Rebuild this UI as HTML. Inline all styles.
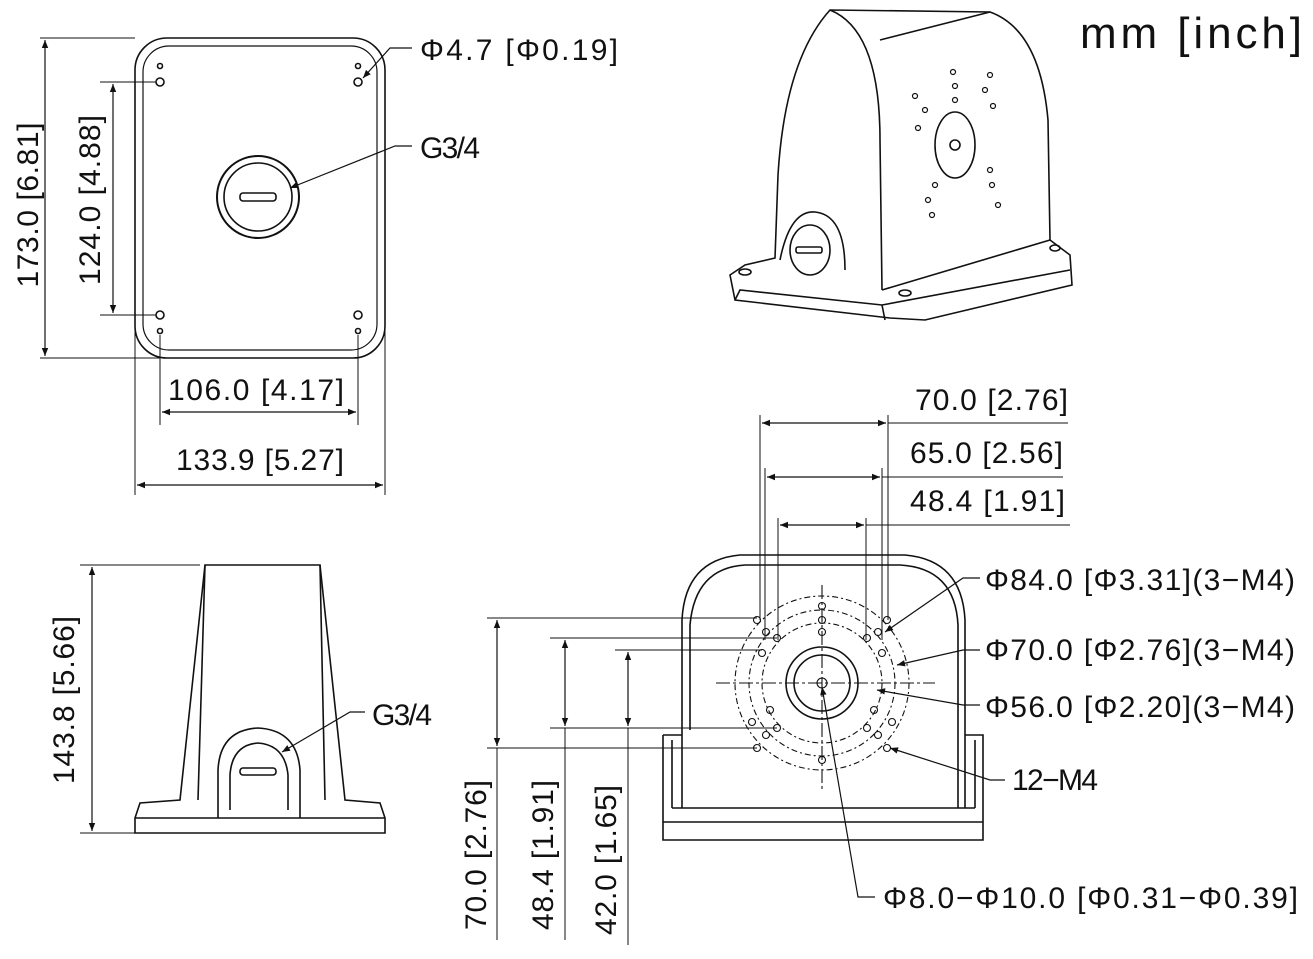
<!DOCTYPE html>
<html><head><meta charset="utf-8"><style>
html,body{margin:0;padding:0;background:#fff}
svg{display:block}
text{font-family:"Liberation Sans",sans-serif;fill:#111}
</style></head><body>
<svg width="1313" height="959" viewBox="0 0 1313 959" xmlns="http://www.w3.org/2000/svg">
<defs>
<marker id="a" viewBox="0 0 10 10" refX="10" refY="5" markerWidth="14" markerHeight="8" orient="auto-start-reverse" markerUnits="userSpaceOnUse"><path d="M0,1 L10,5 L0,9 z" fill="#111"/></marker>
</defs>
<g stroke="#111" fill="none" stroke-width="1.6">
<!-- TOP VIEW -->
<rect x="135" y="38" width="250" height="320" rx="32"/>
<rect x="143" y="46" width="234" height="304" rx="26" stroke-width="1.2"/>
<circle cx="160" cy="82" r="4"/><circle cx="160" cy="66" r="2.5"/>
<circle cx="358" cy="82" r="4"/><circle cx="358" cy="66" r="2.5"/>
<circle cx="160" cy="315" r="4"/><circle cx="160" cy="331" r="2.5"/>
<circle cx="358" cy="315" r="4"/><circle cx="358" cy="331" r="2.5"/>
<circle cx="258" cy="197" r="41" stroke-width="2"/>
<circle cx="258" cy="197" r="34"/>
<rect x="240" y="193" width="36" height="8" rx="3"/>
<!-- top view dims -->
<line x1="40" y1="38" x2="135" y2="38" stroke-width="1"/>
<line x1="40" y1="358" x2="160" y2="358" stroke-width="1"/>
<line x1="100" y1="82" x2="156" y2="82" stroke-width="1"/>
<line x1="100" y1="315" x2="156" y2="315" stroke-width="1"/>
<line x1="45" y1="40" x2="45" y2="356" marker-start="url(#a)" marker-end="url(#a)" stroke-width="1.2"/>
<line x1="113" y1="84" x2="113" y2="313" marker-start="url(#a)" marker-end="url(#a)" stroke-width="1.2"/>
<line x1="160" y1="335" x2="160" y2="425" stroke-width="1"/>
<line x1="358" y1="335" x2="358" y2="425" stroke-width="1"/>
<line x1="135" y1="330" x2="135" y2="495" stroke-width="1"/>
<line x1="385" y1="330" x2="385" y2="495" stroke-width="1"/>
<line x1="162" y1="412" x2="356" y2="412" marker-start="url(#a)" marker-end="url(#a)" stroke-width="1.2"/>
<line x1="137" y1="485" x2="383" y2="485" marker-start="url(#a)" marker-end="url(#a)" stroke-width="1.2"/>
<polyline points="412,48 390,48 363,78" stroke-width="1.2" marker-end="url(#a)"/>
<polyline points="412,146 395,146 290,188" stroke-width="1.2" marker-end="url(#a)"/>

<!-- ISO VIEW -->
<path d="M730,275 L745,265 L775,258 L778,175 Q785,60 830,10 L990,12 Q1040,30 1048,120 L1050,240 L1070,255 L1072,285 L925,320 L890,318 L735,300 Z"/>
<path d="M830,10 Q880,30 880,140 L882,290"/>
<path d="M990,12 L880,40"/>
<path d="M882,290 L1050,240"/>
<path d="M735,300 L740,290 L882,305 L1070,270"/>
<path d="M882,305 L885,320"/>
<ellipse cx="955" cy="145" rx="20" ry="33"/>
<circle cx="955" cy="145" r="5"/>
<path d="M780,260 Q790,210 815,212 Q845,215 845,270"/>
<ellipse cx="810" cy="250" rx="20" ry="25"/>
<rect x="796" y="247" width="26" height="6" rx="2"/>
<ellipse cx="745" cy="272" rx="6" ry="3"/>
<ellipse cx="905" cy="293" rx="6" ry="3"/>
<ellipse cx="1055" cy="248" rx="5" ry="3"/>
<g stroke-width="1.2">
<circle cx="915" cy="96" r="2.5"/><circle cx="925" cy="110" r="2.5"/><circle cx="918" cy="128" r="2.5"/>
<circle cx="953" cy="72" r="2.5"/><circle cx="955" cy="86" r="2.5"/><circle cx="955" cy="100" r="2.5"/>
<circle cx="990" cy="75" r="2.5"/><circle cx="985" cy="90" r="2.5"/><circle cx="993" cy="106" r="2.5"/>
<circle cx="935" cy="185" r="2.5"/><circle cx="928" cy="200" r="2.5"/><circle cx="932" cy="215" r="2.5"/>
<circle cx="990" cy="170" r="2.5"/><circle cx="992" cy="185" r="2.5"/><circle cx="998" cy="205" r="2.5"/>
</g>

<!-- SIDE VIEW -->
<path d="M205,565 L320,565 L345,800 L380,803 L385,818 L385,833 L135,833 L135,818 L140,803 L180,800 Z"/>
<line x1="205" y1="565" x2="198" y2="800"/>
<line x1="320" y1="565" x2="325" y2="800"/>
<line x1="135" y1="818" x2="385" y2="818"/>
<path d="M218,818 L218,770 Q220,730 258,728 Q297,730 300,770 L300,818"/>
<path d="M230,810 L230,775 Q232,745 258,743 Q285,745 288,775 L288,810"/>
<rect x="240" y="768" width="36" height="7" rx="3"/>
<line x1="80" y1="565" x2="200" y2="565" stroke-width="1"/>
<line x1="80" y1="833" x2="135" y2="833" stroke-width="1"/>
<line x1="92" y1="567" x2="92" y2="831" marker-start="url(#a)" marker-end="url(#a)" stroke-width="1.2"/>
<polyline points="365,712 350,712 282,752" stroke-width="1.2" marker-end="url(#a)"/>

<!-- FRONT VIEW -->
<path d="M682,730 L682,620 Q685,560 740,555 L905,555 Q962,560 965,620 L965,808"/>
<path d="M690,730 L690,625 Q695,568 745,565 L900,565 Q955,568 958,625 L958,808"/>
<path d="M682,730 L682,808"/>
<path d="M663,735 L682,735 M663,735 L663,840 L983,840 L983,735 L965,735"/>
<path d="M672,808 L975,808 M663,822 L983,822"/>
<path d="M672,740 L672,808 M975,740 L975,808"/>
<g stroke-width="1.1">
<circle cx="822" cy="683" r="87" stroke-dasharray="6,3,2,3"/>
<circle cx="822" cy="683" r="73" stroke-dasharray="6,3,2,3"/>
<circle cx="822" cy="683" r="60" stroke-dasharray="6,3,2,3"/>
<circle cx="822" cy="683" r="36" stroke-width="1.6"/>
<circle cx="822" cy="683" r="28" stroke-width="1.6"/>
<circle cx="822" cy="683" r="5"/>
<line x1="716" y1="683" x2="935" y2="683" stroke-dasharray="14,3,3,3"/>
<line x1="822" y1="585" x2="822" y2="790" stroke-dasharray="14,3,3,3"/>
<circle cx="822" cy="606" r="3.5"/><circle cx="822" cy="620" r="3.5"/><circle cx="822" cy="632" r="3.5"/>
<circle cx="757" cy="620" r="3.5"/><circle cx="777" cy="638" r="3.5"/><circle cx="766" cy="632" r="3.5"/>
<circle cx="887" cy="620" r="3.5"/><circle cx="867" cy="638" r="3.5"/><circle cx="878" cy="632" r="3.5"/>
<circle cx="762" cy="653" r="3.5"/><circle cx="882" cy="653" r="3.5"/>
<circle cx="757" cy="748" r="3.5"/><circle cx="777" cy="728" r="3.5"/><circle cx="766" cy="735" r="3.5"/>
<circle cx="887" cy="748" r="3.5"/><circle cx="867" cy="728" r="3.5"/><circle cx="878" cy="735" r="3.5"/>
<circle cx="752" cy="722" r="3.5"/><circle cx="892" cy="722" r="3.5"/>
<circle cx="770" cy="710" r="3.5"/><circle cx="874" cy="710" r="3.5"/>
<circle cx="822" cy="760" r="3.5"/>
</g>
<!-- front dims -->
<g stroke-width="1">
<line x1="760" y1="415" x2="760" y2="620"/><line x1="888" y1="415" x2="888" y2="620"/>
<line x1="765" y1="468" x2="765" y2="640"/><line x1="882" y1="468" x2="882" y2="640"/>
<line x1="778" y1="518" x2="778" y2="640"/><line x1="866" y1="518" x2="866" y2="640"/>
<line x1="888" y1="423" x2="1068" y2="423"/><line x1="882" y1="477" x2="1063" y2="477"/><line x1="866" y1="525" x2="1070" y2="525"/>
<line x1="487" y1="618" x2="757" y2="618"/><line x1="487" y1="748" x2="757" y2="748"/>
<line x1="550" y1="638" x2="777" y2="638"/><line x1="550" y1="728" x2="777" y2="728"/>
<line x1="615" y1="650" x2="762" y2="650"/>
<line x1="497" y1="748" x2="497" y2="940"/><line x1="565" y1="728" x2="565" y2="940"/><line x1="628" y1="728" x2="628" y2="945"/>
</g>
<line x1="762" y1="423" x2="886" y2="423" marker-start="url(#a)" marker-end="url(#a)" stroke-width="1.2"/>
<line x1="767" y1="477" x2="880" y2="477" marker-start="url(#a)" marker-end="url(#a)" stroke-width="1.2"/>
<line x1="780" y1="525" x2="864" y2="525" marker-start="url(#a)" marker-end="url(#a)" stroke-width="1.2"/>
<line x1="497" y1="620" x2="497" y2="746" marker-start="url(#a)" marker-end="url(#a)" stroke-width="1.2"/>
<line x1="565" y1="640" x2="565" y2="726" marker-start="url(#a)" marker-end="url(#a)" stroke-width="1.2"/>
<line x1="628" y1="652" x2="628" y2="726" marker-start="url(#a)" marker-end="url(#a)" stroke-width="1.2"/>
<polyline points="980,578 963,578 885,632" stroke-width="1.2" marker-end="url(#a)"/>
<polyline points="980,650 963,650 897,665" stroke-width="1.2" marker-end="url(#a)"/>
<polyline points="980,705 963,705 877,690" stroke-width="1.2" marker-end="url(#a)"/>
<polyline points="1005,780 990,780 890,748" stroke-width="1.2" marker-end="url(#a)"/>
<polyline points="875,897 858,897 822,687" stroke-width="1.2" marker-end="url(#a)"/>
</g>
<g font-size="30">
<text x="1080" y="48" font-size="44" textLength="222">mm [inch]</text>
<text x="420" y="60" textLength="198">Φ4.7 [Φ0.19]</text>
<text x="420" y="158" textLength="60">G3/4</text>
<text x="168" y="400" textLength="176">106.0 [4.17]</text>
<text x="176" y="470" textLength="168">133.9 [5.27]</text>
<text transform="translate(38,205) rotate(-90)" text-anchor="middle" textLength="165">173.0 [6.81]</text>
<text transform="translate(100,200) rotate(-90)" text-anchor="middle" textLength="170">124.0 [4.88]</text>
<text transform="translate(74,700) rotate(-90)" text-anchor="middle" textLength="168">143.8 [5.66]</text>
<text x="372" y="725" textLength="60">G3/4</text>
<text x="915" y="410" textLength="153">70.0 [2.76]</text>
<text x="910" y="463" textLength="153">65.0 [2.56]</text>
<text x="910" y="511" textLength="155">48.4 [1.91]</text>
<text x="985" y="590" textLength="310">Φ84.0 [Φ3.31](3−M4)</text>
<text x="985" y="660" textLength="310">Φ70.0 [Φ2.76](3−M4)</text>
<text x="985" y="717" textLength="310">Φ56.0 [Φ2.20](3−M4)</text>
<text x="1012" y="790" textLength="86">12−M4</text>
<text x="883" y="908" textLength="415">Φ8.0−Φ10.0 [Φ0.31−Φ0.39]</text>
<text transform="translate(486,855) rotate(-90)" text-anchor="middle" textLength="150">70.0 [2.76]</text>
<text transform="translate(553,855) rotate(-90)" text-anchor="middle" textLength="150">48.4 [1.91]</text>
<text transform="translate(616,860) rotate(-90)" text-anchor="middle" textLength="150">42.0 [1.65]</text>
</g>
</svg>
</body></html>
